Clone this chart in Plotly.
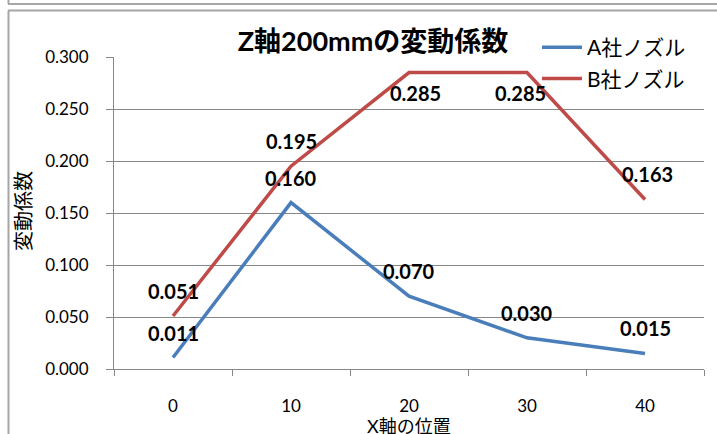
import plotly.graph_objects as go

# --- data -------------------------------------------------------------
x_positions = ["0", "10", "20", "30", "40"]
series_names = ["A社ノズル", "B社ノズル"]
a_values = [0.011, 0.160, 0.070, 0.030, 0.015]
b_values = [0.051, 0.195, 0.285, 0.285, 0.163]
y_ticks = [0.000, 0.050, 0.100, 0.150, 0.200, 0.250, 0.300]

# --- styling ----------------------------------------------------------
W, H = 717, 434
ML, MR, MT, MB = 114, 13, 57, 65
PW, PH = W - ML - MR, H - MT - MB
FONT = "Lato, 'Noto Sans CJK JP', sans-serif"
GRID = "#878787"
FRAME = "#a6a6a6"
colors = ["#4A7EBB", "#BE4B48"]

# label placement: (vertical shift px, horizontal shift px)
label_place = {
    0: [(25, 0), (25, 0), (25, 0), (25, 0), (25, 0)],
    1: [(25, 0), (25, 0), (-20, 6), (-20, -7), (25, 2)],
}


def px_to_paper_x(px):
    return (px - ML) / PW


def px_to_paper_y(py):
    return (H - MB - py) / PH


fig = go.Figure()
for i, (name, vals) in enumerate(zip(series_names, [a_values, b_values])):
    fig.add_trace(go.Scatter(
        x=x_positions, y=vals, name=name, mode="lines",
        line=dict(color=colors[i], width=3.5),
        legendgroup=name,
    ))

annotations = []
for i, vals in enumerate([a_values, b_values]):
    for j, v in enumerate(vals):
        dy, dx = label_place[i][j]
        annotations.append(dict(
            x=j, y=v, xref="x", yref="y",
            text=f"{v:.3f}", showarrow=False,
            xanchor="center", yanchor="middle",
            yshift=dy, xshift=dx,
            font=dict(family=FONT, size=20, color="black", weight="bold"),
        ))

# axis titles
annotations.append(dict(
    text="変動係数", textangle=-90, showarrow=False,
    xref="paper", yref="paper", xanchor="center", yanchor="middle",
    x=px_to_paper_x(23), y=px_to_paper_y(211),
    font=dict(family=FONT, size=20, color="black"),
))
annotations.append(dict(
    text="X軸の位置", showarrow=False,
    xref="paper", yref="paper", xanchor="center", yanchor="middle",
    x=px_to_paper_x(409), y=px_to_paper_y(426),
    font=dict(family=FONT, size=18, color="black"),
))

# chart frame lines
shapes = []
def seg(x0, y0, x1, y1, w=2):
    shapes.append(dict(
        type="line", xref="paper", yref="paper",
        x0=px_to_paper_x(x0), y0=px_to_paper_y(y0),
        x1=px_to_paper_x(x1), y1=px_to_paper_y(y1),
        line=dict(color=FRAME, width=w),
    ))

seg(8.5, 0, 8.5, 4)
seg(8, 4, 717, 4)
seg(8.5, 10.5, 8.5, 434)
seg(8, 10.5, 717, 10.5)

fig.update_layout(
    width=W, height=H,
    margin=dict(l=ML, r=MR, t=MT, b=MB, autoexpand=False),
    paper_bgcolor="white", plot_bgcolor="white",
    font=dict(family=FONT, color="black"),
    title=dict(
        text="<b>Z軸200mmの変動係数</b>",
        x=px_to_paper_x(373), xref="paper", xanchor="center",
        y=1 - 42 / H, yanchor="middle",
        font=dict(family=FONT, size=27, color="black"),
    ),
    showlegend=True,
    legend=dict(
        x=px_to_paper_x(537), xanchor="left",
        y=px_to_paper_y(27), yanchor="top",
        font=dict(family=FONT, size=21, color="black"),
        bgcolor="rgba(0,0,0,0)", tracegroupgap=1,
        itemwidth=40,
    ),
    xaxis=dict(
        type="category", range=[-0.5, 4.5],
        tickson="boundaries", ticks="outside", ticklen=6,
        tickcolor=GRID, showline=True, linecolor=GRID, linewidth=1,
        showgrid=False, tickfont=dict(size=17),
        ticklabelstandoff=22,
    ),
    yaxis=dict(
        range=[0, 0.3], tickvals=y_ticks, tickformat=".3f",
        showgrid=True, gridcolor=GRID, gridwidth=1,
        showline=True, linecolor=GRID, linewidth=1,
        ticks="outside", ticklen=7, tickcolor=GRID,
        tickfont=dict(size=17), ticklabelstandoff=14,
        zeroline=False,
    ),
    annotations=annotations,
    shapes=shapes,
)

fig.write_html("out.html")
